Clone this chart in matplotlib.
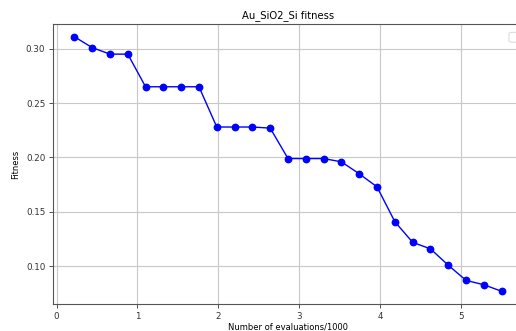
import matplotlib
matplotlib.use('Agg')
import matplotlib.pyplot as plt
from matplotlib.patches import FancyBboxPatch

# evaluations (in thousands) and best fitness per generation
evals = [0.22, 0.44, 0.66, 0.88, 1.10, 1.32, 1.54, 1.76, 1.98, 2.20, 2.42, 2.64,
         2.86, 3.08, 3.30, 3.52, 3.74, 3.96, 4.18, 4.40, 4.62, 4.84, 5.06, 5.28, 5.50]
fitness = [0.311, 0.301, 0.295, 0.295, 0.265, 0.265, 0.265, 0.265, 0.228, 0.228, 0.228, 0.227,
           0.199, 0.199, 0.199, 0.196, 0.185, 0.173, 0.141, 0.122, 0.116, 0.101, 0.087, 0.083, 0.077]
xticks = [0, 1, 2, 3, 4, 5]
yticks = [0.10, 0.15, 0.20, 0.25, 0.30]

W, H = 516, 331
fig = plt.figure(figsize=(W / 100, H / 100), dpi=100)
# axes run a bit past the right edge of the saved image
ax = fig.add_axes([53 / W, 1 - 304 / H, 470 / W, 280 / H])

ax.plot(evals, fitness, color='blue', marker='o', markersize=4.6, linewidth=1.0)
ax.set_xticks(xticks)
ax.set_yticks(yticks)
ax.set_yticklabels([f'{v:.2f}' for v in yticks])
ax.tick_params(labelsize=6.3, length=3, width=0.6, colors='#333333', pad=2.5)
ax.grid(True, color='#c8c8c8', linewidth=0.8)
ax.set_axisbelow(True)
for s in ax.spines.values():
    s.set_color('#555555')
    s.set_linewidth(0.8)

ax.set_title('Au_SiO2_Si fitness', fontsize=7.2, pad=4)
ax.set_xlabel('Number of evaluations/1000', fontsize=6, labelpad=1)
ax.set_ylabel('Fitness', fontsize=6, labelpad=4)

# legend frame corner peeking in at the top right
ax.add_patch(FancyBboxPatch((0.975, 0.94), 0.1, 0.025, boxstyle='round,pad=0.005',
                            transform=ax.transAxes, facecolor='white', edgecolor='#dddddd',
                            linewidth=0.8, clip_on=False))

fig.savefig('out.png', dpi=100)
